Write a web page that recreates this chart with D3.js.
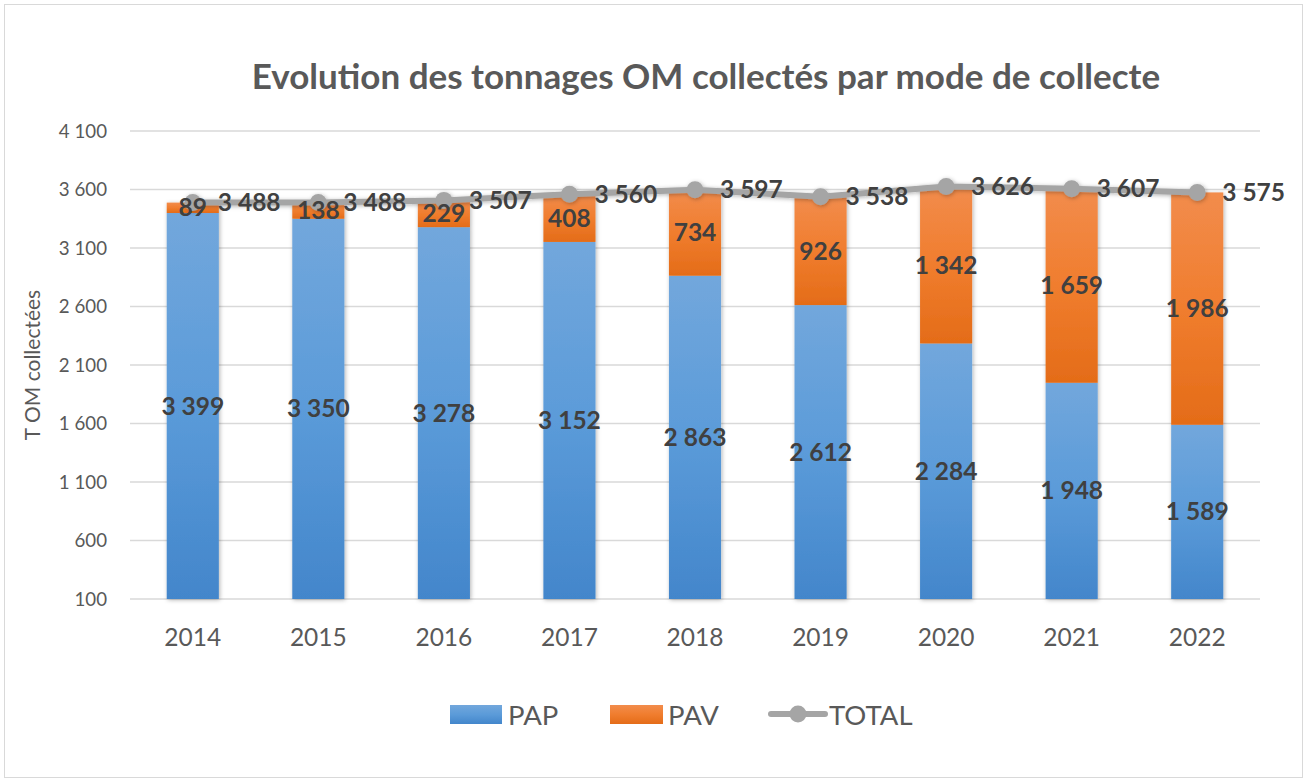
<!DOCTYPE html>
<html><head><meta charset="utf-8">
<script src="https://cdn.jsdelivr.net/npm/d3@7"></script>
<style>body{margin:0;background:#fff}svg{display:block}</style>
</head><body>
<svg id="c" width="1307" height="782"></svg>
<script>
const years = ["2014","2015","2016","2017","2018","2019","2020","2021","2022"];
const pap = [3399,3350,3278,3152,2863,2612,2284,1948,1589];
const pav = [89,138,229,408,734,926,1342,1659,1986];
const total = [3488,3488,3507,3560,3597,3538,3626,3607,3575];
const yTicks = [100,600,1100,1600,2100,2600,3100,3600,4100];

const FONT = "Lato, 'Open Sans', sans-serif";
const svg = d3.select("#c");
const loc = d3.formatLocale({decimal:",", thousands:"\u00a0", grouping:[3], currency:["","€"]});
const fmt = loc.format(",d");

const defs = svg.append("defs");
const gb = defs.append("linearGradient").attr("id","gb").attr("x1",0).attr("y1",0).attr("x2",0).attr("y2",1);
gb.append("stop").attr("offset","0%").attr("stop-color","#72a7dc");
gb.append("stop").attr("offset","50%").attr("stop-color","#5b9bd9");
gb.append("stop").attr("offset","100%").attr("stop-color","#4386cb");
const go = defs.append("linearGradient").attr("id","go").attr("x1",0).attr("y1",0).attr("x2",0).attr("y2",1);
go.append("stop").attr("offset","0%").attr("stop-color","#f28c4c");
go.append("stop").attr("offset","50%").attr("stop-color","#f07d2e");
go.append("stop").attr("offset","100%").attr("stop-color","#e46c18");
const sh = defs.append("filter").attr("id","sh").attr("x","-20%").attr("y","-20%").attr("width","140%").attr("height","140%");
sh.append("feDropShadow").attr("dx",1).attr("dy",1).attr("stdDeviation",2).attr("flood-color","#000").attr("flood-opacity",0.3);

// border
svg.append("rect").attr("x",4.5).attr("y",4.5).attr("width",1298).attr("height",773)
  .attr("fill","#fff").attr("stroke","#d9d9d9").attr("stroke-width",1);

const x = d3.scaleBand().domain(years).range([130,1260]).paddingInner(0.585).paddingOuter(0.2925);
const y = d3.scaleLinear().domain([100,4100]).range([599,131]);

// gridlines
svg.append("g").selectAll("line").data(yTicks).join("line")
  .attr("x1",130).attr("x2",1260).attr("y1",d=>y(d)).attr("y2",d=>y(d))
  .attr("stroke","#d9d9d9").attr("stroke-width",1.5);

// y tick labels
svg.append("g").selectAll("text").data(yTicks).join("text")
  .attr("x",107).attr("y",d=>y(d)).attr("dy","0.35em").attr("text-anchor","end")
  .attr("font-family",FONT).attr("font-size",18.7).attr("fill","#595959").text(d=>fmt(d));

// y title
svg.append("text").attr("transform","translate(40,365) rotate(-90)").attr("text-anchor","middle")
  .attr("font-family",FONT).attr("font-size",21).attr("fill","#595959").text("T OM collectées");

// x labels
svg.append("g").selectAll("text").data(years).join("text")
  .attr("x",d=>x(d)+x.bandwidth()/2).attr("y",637).attr("dy","0.35em").attr("text-anchor","middle")
  .attr("font-family",FONT).attr("font-size",24.5).attr("fill","#595959").text(d=>d);

// bars
const base = y.domain()[0];
const bars = svg.append("g").attr("filter","url(#sh)");
bars.selectAll("rect.pap").data(years).join("rect").attr("class","pap")
  .attr("x",d=>x(d)).attr("width",x.bandwidth())
  .attr("y",(d,i)=>y(pap[i])).attr("height",(d,i)=>y(base)-y(pap[i]))
  .attr("fill","url(#gb)");
bars.selectAll("rect.pav").data(years).join("rect").attr("class","pav")
  .attr("x",d=>x(d)).attr("width",x.bandwidth())
  .attr("y",(d,i)=>y(pap[i]+pav[i])).attr("height",(d,i)=>y(pap[i])-y(pap[i]+pav[i]))
  .attr("fill","url(#go)");

// line
const cx = d=>x(d)+x.bandwidth()/2;
const lg = svg.append("g").attr("filter","url(#sh)");
lg.append("path").datum(years).attr("fill","none").attr("stroke","#a5a5a5").attr("stroke-width",6)
  .attr("stroke-linejoin","round")
  .attr("d",d3.line().x(d=>cx(d)).y((d,i)=>y(total[i]))(years));
lg.selectAll("circle").data(years).join("circle")
  .attr("cx",cx).attr("cy",(d,i)=>y(total[i])).attr("r",8.5).attr("fill","#a5a5a5");

// labels
const lab = svg.append("g").attr("font-family",FONT).attr("font-weight","bold").attr("font-size",24.5).attr("fill","#404040");
lab.selectAll("text.pl").data(years).join("text").attr("class","pl")
  .attr("x",cx).attr("y",(d,i)=>(y(base)+y(pap[i]))/2).attr("dy","0.35em").attr("text-anchor","middle")
  .text((d,i)=>fmt(pap[i]));
lab.selectAll("text.vl").data(years).join("text").attr("class","vl")
  .attr("x",cx).attr("y",(d,i)=>(y(pap[i])+y(pap[i]+pav[i]))/2).attr("dy","0.35em").attr("text-anchor","middle")
  .text((d,i)=>fmt(pav[i]));
lab.selectAll("text.tl").data(years).join("text").attr("class","tl")
  .attr("x",d=>cx(d)+25).attr("y",(d,i)=>y(total[i])).attr("dy","0.35em").attr("text-anchor","start")
  .text((d,i)=>fmt(total[i]));

// title
svg.append("text").attr("x",706).attr("y",77).attr("dy","0.35em").attr("text-anchor","middle")
  .attr("font-family",FONT).attr("font-weight","bold").attr("font-size",35).attr("fill","#595959")
  .text("Evolution des tonnages OM collectés par mode de collecte");

// legend
const leg = svg.append("g").attr("font-family",FONT).attr("font-size",27.5).attr("fill","#595959");
leg.append("rect").attr("x",450).attr("y",705).attr("width",52).attr("height",19).attr("fill","url(#gb)");
leg.append("text").attr("x",508).attr("y",715).attr("dy","0.35em").text("PAP");
leg.append("rect").attr("x",610).attr("y",705).attr("width",53).attr("height",19).attr("fill","url(#go)");
leg.append("text").attr("x",668).attr("y",715).attr("dy","0.35em").text("PAV");
leg.append("line").attr("x1",771).attr("x2",825).attr("y1",714).attr("y2",714).attr("stroke","#a5a5a5").attr("stroke-width",6).attr("stroke-linecap","round");
leg.append("circle").attr("cx",798).attr("cy",714).attr("r",8.5).attr("fill","#a5a5a5");
leg.append("text").attr("x",829).attr("y",715).attr("dy","0.35em").text("TOTAL");
</script>
</body></html>
